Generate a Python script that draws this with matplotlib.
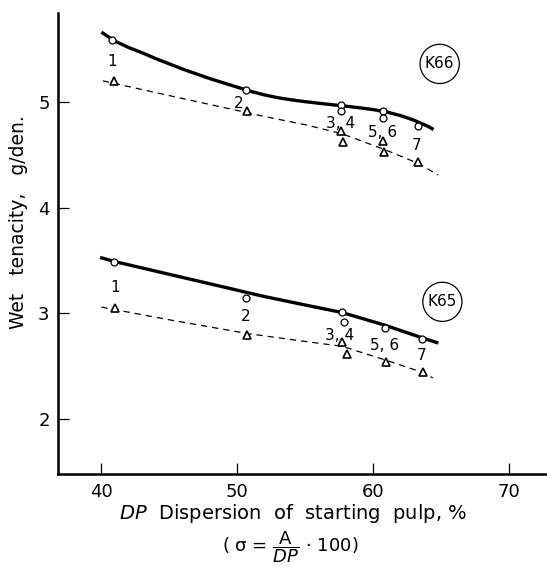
import matplotlib.pyplot as plt

# --- datos ---
# K66: tenacidad (circulos) y su curva trazada
k66_x_circ = [40.8, 50.64, 57.6, 57.6, 60.75, 60.75, 63.3]
k66_y_circ = [5.59, 5.11, 4.97, 4.91, 4.91, 4.85, 4.77]
k66_x_tri = [40.95, 50.69, 57.6, 57.8, 60.75, 60.8, 63.3]
k66_y_tri = [5.20, 4.91, 4.73, 4.62, 4.63, 4.53, 4.43]
k66_curve_x = [40.0, 41, 42, 43, 44, 45, 46, 47, 48, 49, 50, 51, 52, 53, 54,
               55, 56, 57, 58, 59, 60, 61, 62, 63, 64, 64.45]
k66_curve_y = [5.66, 5.575, 5.515, 5.465, 5.41, 5.36, 5.31, 5.265, 5.22, 5.18,
               5.14, 5.10, 5.067, 5.04, 5.02, 5.003, 4.988, 4.974, 4.96, 4.945,
               4.928, 4.905, 4.872, 4.828, 4.772, 4.74]
k66_dash_x = [40.1, 45.0, 50.7, 52.1, 55.0, 57.7, 60.85, 63.3, 64.8]
k66_dash_y = [5.20, 5.06, 4.90, 4.86, 4.785, 4.70, 4.55, 4.42, 4.31]

# K65
k65_x_circ = [40.95, 50.66, 57.68, 57.88, 60.85, 63.6]
k65_y_circ = [3.49, 3.15, 3.01, 2.92, 2.86, 2.76]
k65_x_tri = [41.0, 50.75, 57.68, 58.07, 60.92, 63.68]
k65_y_tri = [3.05, 2.80, 2.73, 2.62, 2.54, 2.45]
k65_curve_x = [39.9, 41, 43, 45, 47, 49, 50.66, 52, 55, 57.68, 60.85, 63.6, 64.8]
k65_curve_y = [3.53, 3.49, 3.43, 3.37, 3.31, 3.25, 3.20, 3.16, 3.08, 3.01, 2.89, 2.77, 2.72]
k65_dash_x = [40.0, 45.0, 50.75, 55.0, 57.7, 60.9, 63.7, 64.4]
k65_dash_y = [3.06, 2.94, 2.81, 2.735, 2.69, 2.56, 2.44, 2.39]

# etiquetas de muestras
k66_lab_x = [40.8, 50.1, 57.6, 60.7, 63.2]
k66_lab_y = [5.38, 4.99, 4.80, 4.71, 4.59]
k65_lab_x = [41.0, 50.6, 57.5, 60.85, 63.6]
k65_lab_y = [3.25, 2.97, 2.79, 2.70, 2.60]
sample_labels = ["1", "2", "3, 4", "5, 6", "7"]

x_ticks = [40, 50, 60, 70]
y_ticks = [2, 3, 4, 5]

fig = plt.figure(figsize=(5.47, 5.72), dpi=100)
ax = fig.add_axes([0.106, 0.171, 0.894, 0.806])

for cx, cy, tx, ty, dx, dy, lx, ly in [
    (k66_curve_x, k66_curve_y, k66_x_tri, k66_y_tri, k66_dash_x, k66_dash_y, k66_x_circ, k66_y_circ),
    (k65_curve_x, k65_curve_y, k65_x_tri, k65_y_tri, k65_dash_x, k65_dash_y, k65_x_circ, k65_y_circ),
]:
    ax.plot(cx, cy, color="black", lw=2.4, solid_capstyle="butt", solid_joinstyle="round")
    ax.plot(dx, dy, color="black", lw=0.9, ls=(0, (5, 4)))
    ax.plot(lx, ly, "o", ms=5, mfc="white", mec="black", mew=0.9, ls="none")
    ax.plot(tx, ty, "^", ms=6, mfc="white", mec="black", mew=1.2, ls="none")

for lx, ly in [(k66_lab_x, k66_lab_y), (k65_lab_x, k65_lab_y)]:
    for x, y, s in zip(lx, ly, sample_labels):
        ax.text(x, y, s, fontsize=11, ha="center", va="center")

circ = dict(boxstyle="circle,pad=0.32", fc="white", ec="black", lw=0.9)
ax.text(64.9, 5.36, "K66", fontsize=11, ha="center", va="center", bbox=circ)
ax.text(65.1, 3.11, "K65", fontsize=11, ha="center", va="center", bbox=circ)

ax.set_xlim(36.8, 72.8)
ax.set_ylim(1.48, 5.84)
ax.set_xticks(x_ticks)
ax.set_yticks(y_ticks)
ax.tick_params(direction="in", length=8, width=0.9, labelsize=13, pad=6)
for s in ["top", "right"]:
    ax.spines[s].set_visible(False)
ax.spines["left"].set_linewidth(1.8)
ax.spines["bottom"].set_linewidth(1.8)

ax.set_ylabel("Wet   tenacity,   g/den.", fontsize=13.5)
ax.yaxis.set_label_coords(-0.062, 0.547)
fig.text(0.535, 0.103, "$DP$  Dispersion  of  starting  pulp, %", fontsize=14,
         ha="center", va="center")
fig.text(0.53, 0.043, r"( σ = $\dfrac{\mathrm{A}}{DP}$ · 100)", fontsize=13,
         ha="center", va="center")

fig.savefig("out.png", dpi=100)
